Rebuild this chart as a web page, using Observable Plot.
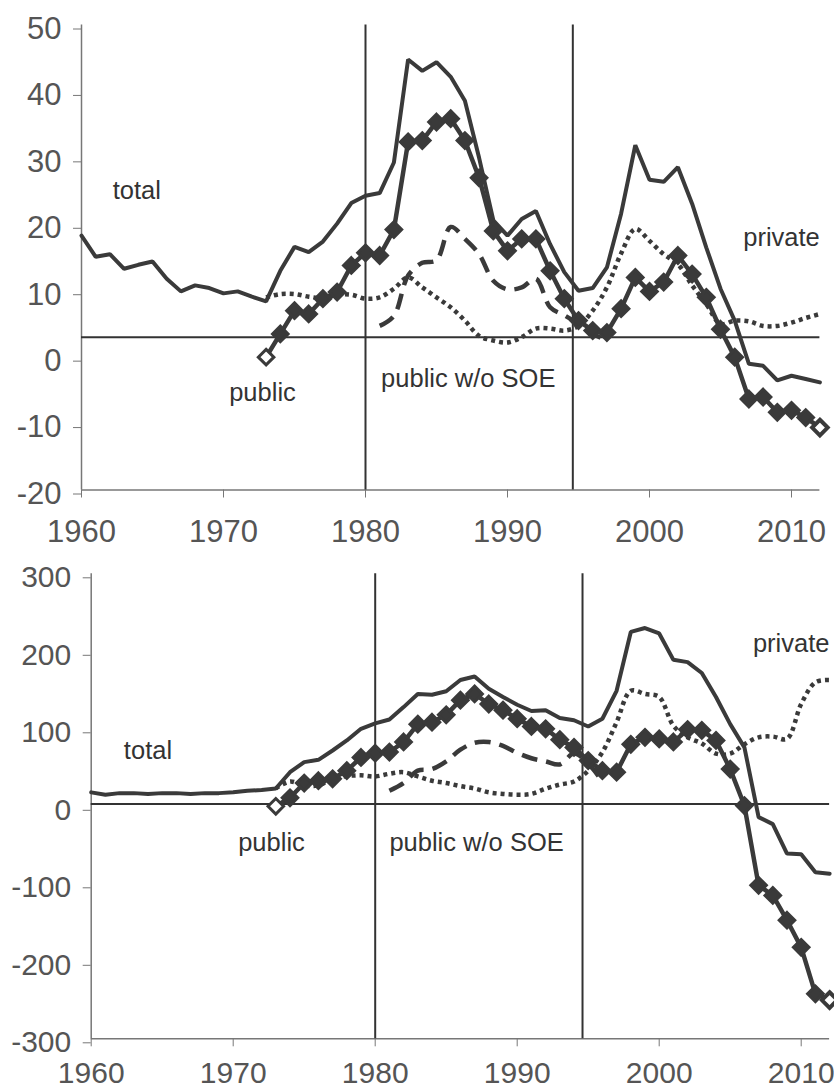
<!DOCTYPE html>
<html><head><meta charset="utf-8">
<script src="https://cdn.jsdelivr.net/npm/d3@7"></script>
<script src="https://cdn.jsdelivr.net/npm/@observablehq/plot@0.6"></script>
<style>
html,body{margin:0;padding:0;background:#fff;overflow:hidden}
#chart svg{display:block}
</style></head><body><div id="chart"></div>
<script>
// ---------- data ----------
const yearsTotal = [1960,1961,1962,1963,1964,1965,1966,1967,1968,1969,1970,1971,1972,1973,1974,1975,1976,1977,1978,1979,1980,1981,1982,1983,1984,1985,1986,1987,1988,1989,1990,1991,1992,1993,1994,1995,1996,1997,1998,1999,2000,2001,2002,2003,2004,2005,2006,2007,2008,2009,2010,2011,2012];
const yearsSector = [1973,1974,1975,1976,1977,1978,1979,1980,1981,1982,1983,1984,1985,1986,1987,1988,1989,1990,1991,1992,1993,1994,1995,1996,1997,1998,1999,2000,2001,2002,2003,2004,2005,2006,2007,2008,2009,2010,2011,2012];
const yearsSoeTop = [1981,1982,1983,1984,1985,1986,1987,1988,1989,1990,1991,1992,1993,1994,1995,1996,1997];
const yearsSoeBottom = [1981,1982,1983,1984,1985,1986,1987,1988,1989,1990,1991,1992,1993,1994,1995,1996];

// top panel
const topTotal = [18.3,15.1,15.5,13.3,13.9,14.4,11.8,9.9,10.8,10.4,9.6,9.9,9.1,8.4,13.0,16.6,15.8,17.4,20.1,23.2,24.3,24.7,29.3,44.8,43.1,44.4,42.2,38.6,30.0,20.6,18.3,20.8,22.0,17.0,12.8,10.0,10.4,13.5,21.6,31.9,26.7,26.4,28.6,23.1,16.5,10.3,5.5,-1.0,-1.3,-3.5,-2.8,-3.3,-3.8];
const topPublic = [0,3.5,7.0,6.5,8.8,9.8,13.8,15.7,15.3,19.2,32.4,32.6,35.4,35.9,32.6,27.0,19.0,16.0,17.8,17.8,13.0,8.8,5.5,4.0,3.7,7.3,12.0,9.9,11.3,15.3,12.5,9.0,4.2,0.0,-6.3,-6.0,-8.3,-8.0,-9.1,-10.6];
const topPrivate = [9.0,9.5,9.5,9.1,8.9,9.4,9.4,8.8,9.0,10.3,12.0,10.5,9.0,7.5,5.5,3.2,2.5,2.2,3.0,4.3,4.3,4.0,4.7,7.0,10.5,15.6,19.3,17.5,15.5,14.0,10.8,8.0,5.0,5.5,5.4,4.7,4.7,5.2,5.9,6.5];
const topSoe = [4.7,6.2,12.3,14.2,14.6,19.6,17.8,15.5,11.5,10.2,10.5,11.8,7.5,6.3,5.0,3.5,2.5];

// bottom panel
const botTotal = [18,15,17,17,16,17,17,16,17,17,18,20,21,23,44,57,60,72,85,100,107,112,128,145,144,148.5,163,167.5,151.6,141,131,123,124,114,111,103,113,149,225,230,223,189,186,172,141,106,76,-14,-23,-61,-62,-85,-87];
const botPublic = [0,11,30,33,35.5,46,63,68.5,70,83,106,108.5,118,137,145,132,124,113,103,100,86,76,59,46,44,80,89,87,83,99,98,85,48,1,-102,-115,-147,-182,-242,-250];
const botPrivate = [23,32,27,27,36,39,40,38.5,42,44,38.5,33,30,26,23,18,16,15,16,22.6,28,32,46,70,108.5,149,145,141,104,89,81,68,68,80,89,90,87,132,160,163];
const botSoe = [20,30,46,48,58,73,82,83,78,69,62,58,54,68,55,32];

// axes, reference lines, labels
const xTicks = [1960,1970,1980,1990,2000,2010];
const xDomain = [1960,2012];
const topTicks = [-20,-10,0,10,20,30,40,50];
const botTicks = [-300,-200,-100,0,100,200,300];
const regimeBreaks = [1980,1994.6];
const refTop = 3;
const refBottom = 3;
const labelNames = ["total","private","public","public w/o SOE"];
const labelYearsTop = [1962.2,2006.6,1970.4,1981.1];
const labelValuesTop = [25,18,-5.3,-3.2];
const labelYearsBot = [1962.3,2006.6,1970.35,1981.0];
const labelValuesBot = [71,210,-47.6,-47.6];

// ---------- build ----------
const ink = "#3a3a3a";
const zip = (xs, ys) => xs.map((x, i) => ({x, y: ys[i]}));

function panel(o) {
  const total = zip(yearsTotal, o.total);
  const pub = zip(yearsSector, o.pub);
  const priv = zip(yearsSector, o.priv);
  const soe = zip(o.soeYears, o.soe);
  const labels = labelNames.map((t, i) => ({t, x: o.lx[i], y: o.ly[i]}));
  const last = pub.length - 1;
  return Plot.plot({
    width: 834,
    height: o.height,
    marginLeft: o.ml,
    marginRight: 834 - o.ml - 738.4,
    marginTop: o.mt,
    marginBottom: o.mb,
    x: {domain: xDomain},
    y: {domain: [o.ticks[0], o.ticks[o.ticks.length - 1]]},
    style: {fontFamily: "'Liberation Sans', Arial, sans-serif", fontSize: o.fs, background: "#fff"},
    marks: [
      Plot.ruleX([xDomain[0]], {stroke: "#777", strokeWidth: 1.5}),
      Plot.ruleY([o.ticks[0]], {stroke: "#777", strokeWidth: 1.5}),
      Plot.axisY({ticks: o.ticks, tickSize: 8, tickPadding: 12, tickFormat: d => String(d), stroke: "#777", fill: "#555", dy: 4, label: null}),
      Plot.axisX({ticks: xTicks, tickSize: 8, tickPadding: o.xpad, tickFormat: d => String(d), stroke: "#777", fill: "#555", label: null}),
      Plot.ruleX(regimeBreaks, {stroke: "#333", strokeWidth: 2}),
      Plot.ruleY([o.ref], {stroke: "#333", strokeWidth: 2}),
      Plot.line(priv, {x: "x", y: "y", stroke: ink, strokeWidth: 4.5, strokeDasharray: "4,4", strokeLinecap: "butt", curve: "catmull-rom"}),
      Plot.line(soe, {x: "x", y: "y", stroke: ink, strokeWidth: 4.5, strokeDasharray: "16,9", strokeLinecap: "butt", curve: "catmull-rom"}),
      Plot.line(total, {x: "x", y: "y", stroke: ink, strokeWidth: 4, strokeLinejoin: "miter"}),
      Plot.line(pub, {x: "x", y: "y", stroke: ink, strokeWidth: 4.5}),
      Plot.dot(pub, {x: "x", y: "y", symbol: "diamond2", r: 7,
        fill: (d, i) => (i === 0 || i === last) ? "#fff" : ink,
        stroke: ink, strokeWidth: (d, i) => (i === last ? 4 : 3)}),
      Plot.text(labels, {x: "x", y: "y", text: "t", textAnchor: "start", fontSize: 25.5, fill: "#333"})
    ]
  });
}

const chart = document.getElementById("chart");
chart.append(panel({
  total: topTotal, pub: topPublic, priv: topPrivate, soe: topSoe, soeYears: yearsSoeTop,
  ticks: topTicks, ref: refTop, lx: labelYearsTop, ly: labelValuesTop,
  height: 550, ml: 81, mt: 24.5, mb: 60.5, xpad: 22, fs: "31px"
}));
chart.append(panel({
  total: botTotal, pub: botPublic, priv: botPrivate, soe: botSoe, soeYears: yearsSoeBottom,
  ticks: botTicks, ref: refBottom, lx: labelYearsBot, ly: labelValuesBot,
  height: 542, ml: 90.7, mt: 23.3, mb: 53.7, xpad: 15, fs: "30px"
}));
</script>
</body></html>
